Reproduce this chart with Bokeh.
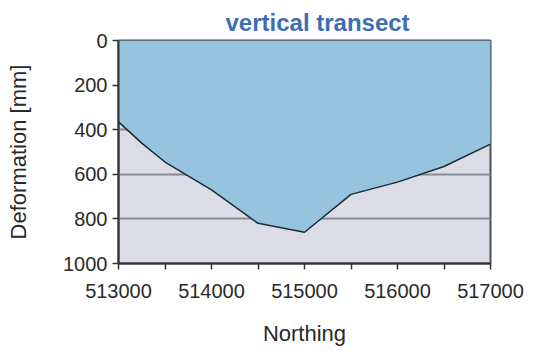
from bokeh.plotting import figure
from bokeh.models import Range1d, FixedTicker, ColumnDataSource, BasicTickFormatter
from bokeh.embed import file_html
from bokeh.resources import INLINE

northing = [513000, 513250, 513500, 514000, 514500, 515000, 515500, 516000, 516500, 517000]
deformation = [365, 460, 545, 670, 820, 860, 690, 635, 565, 465]
y_ticks = [0, 200, 400, 600, 800, 1000]
x_ticks = [513000, 514000, 515000, 516000, 517000]
x_minor = [513500, 514500, 515500, 516500]

src = ColumnDataSource(dict(x=northing, y=deformation, top=[0] * len(northing)))

FONT = "Liberation Sans"

p = figure(width=533, height=348, output_backend="svg", toolbar_location=None,
           x_range=Range1d(513000, 517000), y_range=Range1d(1000, 0),
           min_border_left=118, min_border_right=43, min_border_top=40, min_border_bottom=85,
           background_fill_color="white", border_fill_color="white")

p.title.text = "vertical transect"
p.title.text_color = "#3E6DB5"
p.title.text_font = FONT
p.title.text_font_size = "24px"
p.title.text_font_style = "bold"
p.title.align = "left"
p.title.offset = 107
p.title.standoff = 10

p.background_fill_color = "#DCDCE6"
p.outline_line_color = "#4A5560"
p.outline_line_width = 2

# blue area above the curve
p.varea(x="x", y1="top", y2="y", source=src, fill_color="#96C3DE")
p.line(x="x", y="y", source=src, line_color="#1E2A30", line_width=1.5)

p.xgrid.visible = False
p.ygrid.ticker = FixedTicker(ticks=y_ticks)
p.ygrid.grid_line_color = "#8A8A96"
p.ygrid.grid_line_width = 2

p.xaxis.ticker = FixedTicker(ticks=x_ticks, minor_ticks=x_minor)
p.yaxis.ticker = FixedTicker(ticks=y_ticks)
p.xaxis.formatter = BasicTickFormatter(use_scientific=False)
p.yaxis.formatter = BasicTickFormatter(use_scientific=False)

for ax in (p.xaxis[0], p.yaxis[0]):
    ax.axis_line_color = "#333333"
    ax.axis_line_width = 2
    ax.major_tick_line_color = "#333333"
    ax.major_tick_line_width = 1.5
    ax.major_tick_out = 6
    ax.major_tick_in = 0
    ax.major_label_text_font = FONT
    ax.major_label_text_font_size = "20px"
    ax.major_label_text_color = "#2A2A2A"
    ax.axis_label_text_font = FONT
    ax.axis_label_text_font_size = "22px"
    ax.axis_label_text_font_style = "normal"
    ax.axis_label_text_color = "#2A2A2A"

p.xaxis.minor_tick_line_color = "#333333"
p.xaxis.minor_tick_line_width = 1.5
p.xaxis.minor_tick_out = 6
p.xaxis.minor_tick_in = 0
p.yaxis.minor_tick_line_color = None

p.xaxis.axis_label = "Northing"
p.yaxis.axis_label = "Deformation [mm]"
p.xaxis.major_label_standoff = 14
p.xaxis.axis_label_standoff = 20
p.yaxis.major_label_standoff = 5
p.yaxis.axis_label_standoff = 29

open("out.html", "w").write(file_html(p, INLINE))
